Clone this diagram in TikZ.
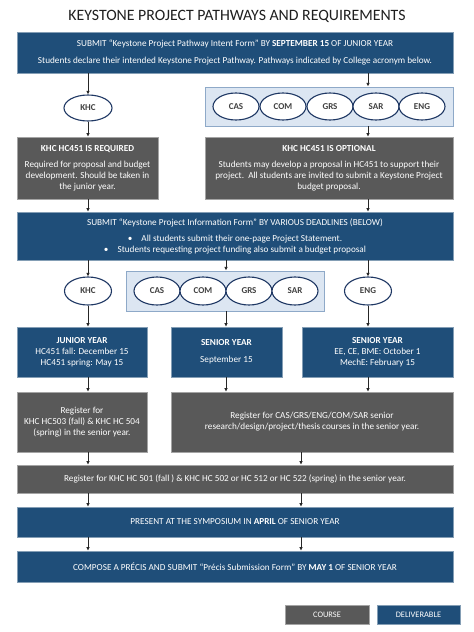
\documentclass[tikz,border=0pt]{standalone}
\usepackage{fontspec}
\setmainfont{Carlito}
\usetikzlibrary{shapes.geometric,arrows.meta,calc}
\definecolor{dblue}{HTML}{1F4E79}
\definecolor{dgray}{HTML}{595959}
\definecolor{lblue}{HTML}{DCE6F2}
\definecolor{pborder}{HTML}{8EA9C8}
\definecolor{navy}{HTML}{1F3864}
\begin{document}
\begin{tikzpicture}[x=1pt,y=-1pt,
  box/.style={rectangle, inner sep=0pt, text=white, align=center, font=\fontsize{9.2}{11}\selectfont},
  bluebox/.style={box, fill=dblue, draw=dblue!55!white, line width=0.6pt},
  graybox/.style={box, fill=dgray, draw=dgray!55!white, line width=0.6pt},
  oval/.style={ellipse, fill=white, draw=navy, line width=1.1pt, inner sep=0pt, minimum width=46pt, minimum height=27pt, font=\bfseries\fontsize{9}{10}\selectfont, text=black!75},
  panel/.style={rectangle, fill=lblue, draw=pborder, line width=0.9pt, inner sep=0pt},
  arr/.style={-{Latex[length=3.6pt,width=3.6pt]}, line width=0.8pt, black!85}]
\useasboundingbox (0,0) rectangle (474,632);
\fill[white] (0,0) rectangle (474,632);

\node[font=\fontsize{15.8}{18}\selectfont, text=black!88] (title) at (237,16) {KEYSTONE PROJECT PATHWAYS AND REQUIREMENTS};

\node[bluebox, minimum width=436pt, minimum height=41pt] (b1) at (235,52.5)
 {SUBMIT “Keystone Project Pathway Intent Form” BY \textbf{SEPTEMBER 15} OF JUNIOR YEAR\\[6pt]
  Students declare their intended Keystone Project Pathway. Pathways indicated by College acronym below.};

\node[oval, minimum width=48pt, minimum height=26pt] (khc1) at (88,108) {KHC};
\node[panel, minimum width=248pt, minimum height=39pt] (panel1) at (329,106.5) {};
\node[oval] (cas1) at (236,106.5) {CAS};
\node[oval] (com1) at (283,106.5) {COM};
\node[oval] (grs1) at (330,106.5) {GRS};
\node[oval] (sar1) at (376,106.5) {SAR};
\node[oval] (eng1) at (422,106.5) {ENG};

\node[graybox, minimum width=141pt, minimum height=62pt] (b2) at (87.5,168)
 {\textbf{KHC HC451 IS REQUIRED}\\[5pt]
  Required for proposal and budget\\ development. Should be taken in\\ the junior year.};
\node[graybox, minimum width=248pt, minimum height=62pt] (b3) at (329,168)
 {\textbf{KHC HC451 IS OPTIONAL}\\[5pt]
  Students may develop a proposal in HC451 to support their\\ project.\ \ All students are invited to submit a Keystone Project\\ budget proposal.};

\node[bluebox, minimum width=436pt, minimum height=48pt] (b4) at (235,236)
 {SUBMIT “Keystone Project Information Form” BY VARIOUS DEADLINES (BELOW)\\[5pt]
  \textbullet\hspace{9pt}All students submit their one-page Project Statement.\\
  \textbullet\hspace{9pt}Students requesting project funding also submit a budget proposal};

\node[oval, minimum width=47pt, minimum height=28pt] (khc2) at (88,291) {KHC};
\node[panel, minimum width=198pt, minimum height=40pt] (panel2) at (225,291) {};
\node[oval, minimum height=28pt] (cas2) at (157,291) {CAS};
\node[oval, minimum height=28pt] (com2) at (203,291) {COM};
\node[oval, minimum height=28pt] (grs2) at (249,291) {GRS};
\node[oval, minimum height=28pt] (sar2) at (295,291) {SAR};
\node[oval, minimum width=47pt, minimum height=28pt] (eng2) at (368,291) {ENG};

\node[bluebox, minimum width=130pt, minimum height=50pt] (b5) at (82,352)
 {\textbf{JUNIOR YEAR}\\ HC451 fall: December 15\\ HC451 spring: May 15};
\node[bluebox, minimum width=111pt, minimum height=50pt] (b6) at (226.5,352)
 {\textbf{SENIOR YEAR}\\[6pt] September 15};
\node[bluebox, minimum width=151pt, minimum height=50pt] (b7) at (377.5,352)
 {\textbf{SENIOR YEAR}\\ EE, CE, BME: October 1\\ MechE: February 15};

\node[graybox, minimum width=130pt, minimum height=60pt] (b8) at (82,422)
 {Register for\\ KHC HC503 (fall) \& KHC HC 504\\ (spring) in the senior year.};
\node[graybox, minimum width=282pt, minimum height=60pt] (b9) at (312,422)
 {Register for CAS/GRS/ENG/COM/SAR senior\\ research/design/project/thesis courses in the senior year.};

\node[graybox, minimum width=436pt, minimum height=28pt] (b10) at (235,479)
 {Register for KHC HC 501 (fall ) \& KHC HC 502 or HC 512 or HC 522 (spring) in the senior year.};
\node[bluebox, minimum width=436pt, minimum height=30pt] (b11) at (235,522)
 {PRESENT AT THE SYMPOSIUM IN \textbf{APRIL} OF SENIOR YEAR};
\node[bluebox, minimum width=436pt, minimum height=31pt] (b12) at (235,566.5)
 {COMPOSE A PRÉCIS AND SUBMIT “Précis Submission Form” BY \textbf{MAY 1} OF SENIOR YEAR};

\node[graybox, minimum width=84pt, minimum height=19pt, font=\fontsize{8.4}{9}\selectfont] (leg1) at (327,614.5) {COURSE};
\node[bluebox, minimum width=83pt, minimum height=19pt, font=\fontsize{8.4}{9}\selectfont] (leg2) at (418.5,614.5) {DELIVERABLE};

\coordinate (xL) at (88,0);
\coordinate (xM) at (226,0);
\coordinate (xR) at (368,0);
\coordinate (xC) at (301,0);

\draw[arr] (xL |- b1.south) -- (khc1.north);
\draw[arr] (xR |- b1.south) -- (xR |- panel1.north);
\draw[arr] (khc1.south) -- (xL |- b2.north);
\draw[arr] (xR |- panel1.south) -- (xR |- b3.north);
\draw[arr] (xL |- b2.south) -- (xL |- b4.north);
\draw[arr] (xR |- b3.south) -- (xR |- b4.north);
\draw[arr] (xL |- b4.south) -- (khc2.north);
\draw[arr] (xM |- b4.south) -- (xM |- panel2.north);
\draw[arr] (xR |- b4.south) -- (eng2.north);
\draw[arr] (khc2.south) -- (xL |- b5.north);
\draw[arr] (xM |- panel2.south) -- (xM |- b6.north);
\draw[arr] (eng2.south) -- (xR |- b7.north);
\draw[arr] (xL |- b5.south) -- (xL |- b8.north);
\draw[arr] (xM |- b6.south) -- (xM |- b9.north);
\draw[arr] (xR |- b7.south) -- (xR |- b9.north);
\draw[arr] (xL |- b8.south) -- (xL |- b10.north);
\draw[arr] (xC |- b9.south) -- (xC |- b10.north);
\draw[arr] (xL |- b10.south) -- (xL |- b11.north);
\draw[arr] (xC |- b10.south) -- (xC |- b11.north);
\draw[arr] (xL |- b11.south) -- (xL |- b12.north);
\draw[arr] (xC |- b11.south) -- (xC |- b12.north);
\end{tikzpicture}
\end{document}
